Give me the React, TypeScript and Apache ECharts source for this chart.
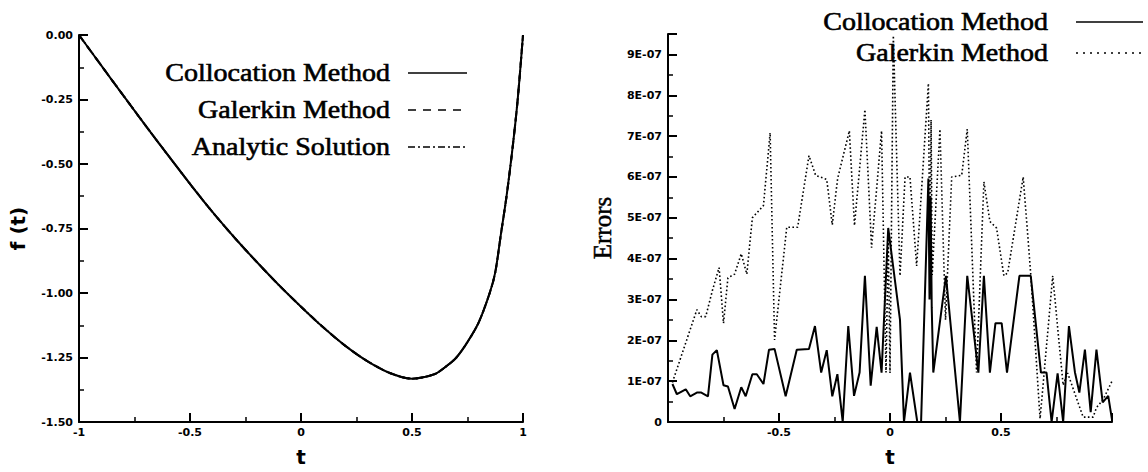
import React, { useEffect, useRef } from "react";
import * as echarts from "echarts";

// ---- f(t) solution curve (all three methods coincide at plotting resolution)
const solT = [
  -1, -0.9, -0.8, -0.7, -0.6, -0.5, -0.4, -0.3, -0.2, -0.1, 0, 0.1, 0.2, 0.3,
  0.4, 0.5, 0.6, 0.65, 0.7, 0.75, 0.8, 0.85, 0.875, 0.9, 0.925, 0.95, 0.975, 1,
];
const solCollocation = [
  0, -0.118, -0.235, -0.351, -0.465, -0.577, -0.685, -0.785, -0.879, -0.969,
  -1.053, -1.133, -1.205, -1.265, -1.31, -1.332, -1.315, -1.287, -1.25, -1.19,
  -1.115, -1.0, -0.92, -0.775, -0.63, -0.46, -0.26, 0,
];
const solGalerkin = solCollocation;
const solAnalytic = solCollocation;

const leftXTicks = { min: -1, max: 1, interval: 0.5 };
const leftYTicks = { min: -1.5, max: 0, interval: 0.25 };

// ---- pointwise errors
const errCollocT = [
  -0.98, -0.96, -0.92, -0.9, -0.87, -0.85, -0.82, -0.8, -0.78, -0.75, -0.73,
  -0.7, -0.67, -0.65, -0.62, -0.6, -0.57, -0.545, -0.52, -0.47, -0.42, -0.365,
  -0.338, -0.31, -0.285, -0.26, -0.237, -0.213, -0.188, -0.162, -0.137, -0.113,
  -0.087, -0.06, -0.038, -0.008, 0.045, 0.063, 0.09, 0.123, 0.14, 0.173, 0.178,
  0.183, 0.188, 0.195, 0.252, 0.315, 0.348, 0.398, 0.423, 0.45, 0.475, 0.503,
  0.527, 0.583, 0.634, 0.68, 0.705, 0.728, 0.755, 0.78, 0.806, 0.833, 0.853,
  0.878, 0.904, 0.93, 0.958, 0.983, 1.0,
];
const errColloc = [
  0.93e-7, 0.68e-7, 0.8e-7, 0.63e-7, 0.72e-7, 0.72e-7, 0.63e-7, 1.65e-7,
  1.76e-7, 0.9e-7, 0.87e-7, 0.32e-7, 0.85e-7, 0.63e-7, 1.17e-7, 1.17e-7,
  0.93e-7, 1.77e-7, 1.79e-7, 0.63e-7, 1.77e-7, 1.79e-7, 2.35e-7, 1.21e-7,
  1.76e-7, 0.63e-7, 1.17e-7, 0, 2.35e-7, 0.64e-7, 1.21e-7, 3.58e-7, 0.89e-7,
  2.33e-7, 1.21e-7, 4.75e-7, 2.5e-7, 0, 1.21e-7, 0, 0, 5.96e-7, 3.0e-7,
  5.5e-7, 2.8e-7, 1.21e-7, 3.58e-7, 0, 3.58e-7, 1.21e-7, 3.58e-7, 1.21e-7,
  2.42e-7, 2.42e-7, 1.21e-7, 3.58e-7, 3.58e-7, 1.21e-7, 1.21e-7, 0, 1.19e-7,
  0, 2.35e-7, 1.22e-7, 0.72e-7, 1.77e-7, 0.24e-7, 1.77e-7, 0.48e-7, 0.64e-7,
  0.06e-7,
];
const errGalerkinT = [
  -0.98, -0.87, -0.85, -0.83, -0.8, -0.77, -0.75, -0.73, -0.7, -0.67, -0.645,
  -0.62, -0.57, -0.54, -0.52, -0.465, -0.416, -0.365, -0.335, -0.285, -0.26,
  -0.236, -0.183, -0.16, -0.113, -0.083, -0.038, -0.018, -0.008, 0.0, 0.015,
  0.045, 0.068, 0.09, 0.12, 0.173, 0.18, 0.185, 0.19, 0.225, 0.25, 0.278,
  0.323, 0.348, 0.39, 0.423, 0.45, 0.48, 0.513, 0.53, 0.6, 0.634, 0.676, 0.733,
  0.78, 0.8, 0.87, 0.915, 0.93, 0.96, 1.0,
];
const errGalerkin = [
  0.97e-7, 2.75e-7, 2.58e-7, 2.58e-7, 3.22e-7, 3.78e-7, 2.42e-7, 3.53e-7,
  3.62e-7, 4.12e-7, 3.62e-7, 5.0e-7, 5.3e-7, 7.08e-7, 2.01e-7, 4.77e-7,
  4.77e-7, 6.52e-7, 6.04e-7, 5.94e-7, 4.83e-7, 5.96e-7, 7.13e-7, 4.81e-7,
  7.65e-7, 4.27e-7, 7.13e-7, 1.21e-7, 4.6e-7, 1.2e-7, 9.46e-7, 3.58e-7, 6.0e-7,
  6.0e-7, 3.82e-7, 8.29e-7, 3.7e-7, 7.4e-7, 3.6e-7, 7.17e-7, 2.5e-7, 6.0e-7,
  6.04e-7, 7.17e-7, 1.21e-7, 5.88e-7, 4.91e-7, 4.75e-7, 3.58e-7, 3.65e-7,
  6.0e-7, 3.62e-7, 0.08e-7, 3.58e-7, 0.9e-7, 1.2e-7, 0.12e-7, 0.12e-7,
  0.35e-7, 0.55e-7, 1.0e-7,
];

const rightXTicks = { min: -1, max: 1, interval: 0.5 };
const rightYTicks = { min: 0, max: 9.5e-7, interval: 1e-7 };

const leftLegend = ["Collocation Method", "Galerkin Method", "Analytic Solution"];
const rightLegend = ["Collocation Method", "Galerkin Method"];

const INK = "#000";
const tickFont = {
  color: INK,
  fontFamily: "DejaVu Sans",
  fontWeight: "bold" as const,
  fontSize: 11,
};
const titleFont = {
  color: INK,
  fontFamily: "DejaVu Sans",
  fontWeight: "bold" as const,
  fontSize: 20,
};

function axisBase() {
  return {
    type: "value" as const,
    splitLine: { show: false },
    axisLine: { show: true, onZero: false, lineStyle: { color: INK, width: 2 } },
    axisTick: { show: true, inside: true, length: 9, lineStyle: { color: INK, width: 2 } },
    minorTick: { show: true, splitNumber: 2, length: 5, lineStyle: { color: INK, width: 1.5 } },
  };
}

function legendGraphic(
  names: string[],
  dashes: (number[] | null)[],
  textRight: number,
  lineX0: number,
  lineX1: number,
  rows: number[]
) {
  const els: any[] = [];
  names.forEach((name, i) => {
    els.push({
      type: "text",
      x: textRight,
      y: rows[i],
      scaleX: 1.12,
      style: {
        text: name,
        fill: INK,
        stroke: INK,
        lineWidth: 0.6,
        fontFamily: "Liberation Serif",
        fontSize: 25,
        align: "right",
        textAlign: "right",
        verticalAlign: "middle",
        textVerticalAlign: "middle",
      },
    });
    els.push({
      type: "line",
      shape: { x1: lineX0, y1: rows[i], x2: lineX1, y2: rows[i] },
      style: { stroke: INK, lineWidth: 1.5, lineDash: dashes[i] || undefined },
    });
  });
  return els;
}

function pairs(xs: number[], ys: number[]) {
  return xs.map((x, i) => [x, ys[i]]);
}

function leftOption() {
  const lineSeries = (name: string, ys: number[], type: any) => ({
    name,
    type: "line" as const,
    data: pairs(solT, ys),
    symbol: "none",
    smooth: 0.3,
    lineStyle: { color: INK, width: 2, type },
  });
  return {
    animation: false,
    backgroundColor: "#fff",
    grid: { left: 79, top: 35, width: 444, height: 392 },
    xAxis: {
      ...axisBase(),
      ...leftXTicks,
      name: "t",
      nameLocation: "middle",
      nameGap: 25,
      nameTextStyle: titleFont,
      axisLabel: { ...tickFont, margin: 5, formatter: (v: number) => String(v) },
    },
    yAxis: {
      ...axisBase(),
      ...leftYTicks,
      name: "f (t)",
      nameLocation: "middle",
      nameRotate: 90,
      nameGap: 51,
      nameTextStyle: titleFont,
      axisLabel: { ...tickFont, margin: 6, formatter: (v: number) => v.toFixed(2) },
    },
    series: [
      lineSeries("Analytic Solution", solAnalytic, [6, 3, 1.5, 3]),
      lineSeries("Galerkin Method", solGalerkin, [8, 6]),
      lineSeries("Collocation Method", solCollocation, "solid"),
    ],
    graphic: legendGraphic(
      leftLegend,
      [null, [8, 7], [7, 3, 2, 3]],
      390,
      408,
      467,
      [73, 110, 147]
    ),
  };
}

function rightOption() {
  return {
    animation: false,
    backgroundColor: "#fff",
    grid: { left: 94, top: 34, width: 444, height: 393 },
    xAxis: {
      ...axisBase(),
      ...rightXTicks,
      name: "t",
      nameLocation: "middle",
      nameGap: 25,
      nameTextStyle: titleFont,
      axisLabel: {
        ...tickFont,
        margin: 5,
        showMinLabel: false,
        showMaxLabel: false,
        formatter: (v: number) => String(v),
      },
    },
    yAxis: {
      ...axisBase(),
      ...rightYTicks,
      name: "Errors",
      nameLocation: "middle",
      nameRotate: 90,
      nameGap: 53,
      nameTextStyle: {
        color: INK,
        fontFamily: "Liberation Serif",
        fontSize: 25,
        textBorderColor: INK,
        textBorderWidth: 0.5,
      },
      axisLabel: {
        ...tickFont,
        margin: 6,
        showMaxLabel: false,
        formatter: (v: number) => (v === 0 ? "0" : `${Math.round(v / 1e-7)}E-07`),
      },
    },
    series: [
      {
        name: "Galerkin Method",
        type: "line",
        data: pairs(errGalerkinT, errGalerkin),
        symbol: "none",
        lineStyle: { color: INK, width: 1.6, type: [1.6, 2.4] },
      },
      {
        name: "Collocation Method",
        type: "line",
        data: pairs(errCollocT, errColloc),
        symbol: "none",
        lineStyle: { color: INK, width: 2 },
      },
    ],
    graphic: legendGraphic(rightLegend, [null, [2, 5]], 474, 502, 569, [22, 53]),
  };
}

function Chart({ left, option }: { left: number; option: any }) {
  const ref = useRef<HTMLDivElement>(null);
  useEffect(() => {
    if (!ref.current) return;
    const chart = echarts.init(ref.current, undefined, { renderer: "svg" });
    chart.setOption(option);
    return () => chart.dispose();
  }, [option]);
  return (
    <div
      ref={ref}
      style={{ position: "absolute", left, top: 0, width: 574, height: 472 }}
    />
  );
}

const LEFT = leftOption();
const RIGHT = rightOption();

export default function App() {
  return (
    <div
      style={{
        position: "absolute",
        left: 0,
        top: 0,
        width: 1148,
        height: 472,
        background: "#fff",
        overflow: "hidden",
      }}
    >
      <Chart left={0} option={LEFT} />
      <Chart left={574} option={RIGHT} />
    </div>
  );
}
